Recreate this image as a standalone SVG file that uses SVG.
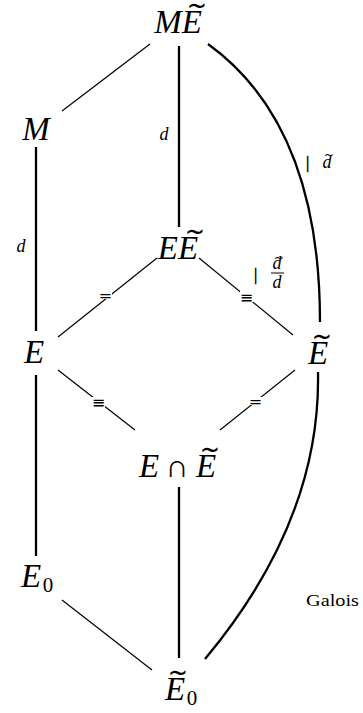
<svg xmlns="http://www.w3.org/2000/svg" width="363" height="713" viewBox="0 0 363 713">
<style>
  text { font-family: 'Liberation Serif', Tinos, 'Times New Roman', Times, 'DejaVu Serif', 'Noto Serif', serif; fill: #000; }
  .m { font-style: italic; font-size: 33px; }
  .r { font-size: 32px; }
  .sub { font-size: 21px; }
  .tl { font-family: 'DejaVu Sans', 'Liberation Sans', sans-serif; font-size: 22px; }
  .tls { font-family: 'DejaVu Sans', 'Liberation Sans', sans-serif; font-size: 12px; }
  .lab { font-style: italic; font-size: 18px; }
  .labr { font-size: 16px; }
  .bar { stroke: #000; stroke-width: 0.5; }
  .sym { font-family: 'DejaVu Sans', 'Liberation Sans', sans-serif; font-size: 16px; }
  .thin { stroke: #000; stroke-width: 1.2; fill: none; }
  .thick { stroke: #000; stroke-width: 2.3; fill: none; }
  .bg { fill: #fff; }
</style>
<rect width="363" height="713" fill="#fff"/>

<g id="connectors">
  <line class="thin" x1="150" y1="44" x2="62" y2="111"/>
  <line class="thick" x1="179" y1="46" x2="179" y2="227"/>
  <path class="thick" d="M208,44 Q320,125 320,322"/>
  <line class="thick" x1="36" y1="147" x2="36" y2="331"/>
  <line class="thin" x1="157" y1="258" x2="58" y2="337"/>
  <line class="thin" x1="199" y1="258" x2="293" y2="335"/>
  <line class="thin" x1="58" y1="370" x2="135" y2="430"/>
  <line class="thin" x1="295" y1="370" x2="220" y2="430"/>
  <line class="thick" x1="36" y1="375" x2="36" y2="556"/>
  <line class="thick" x1="179" y1="487" x2="179" y2="658"/>
  <line class="thin" x1="62" y1="600" x2="152" y2="670"/>
  <path class="thick" d="M318,372 Q321,520 205,659"/>

  <!-- marks on lines -->
  <rect class="bg" x="99" y="291" width="13" height="8"/>
  <text class="sym" x="105.5" y="301" text-anchor="middle">=</text>
  <rect class="bg" x="240" y="291" width="13" height="11"/>
  <text class="sym" x="246.5" y="303" text-anchor="middle">≡</text>
  <rect class="bg" x="92" y="397" width="13" height="11"/>
  <text class="sym" x="98.5" y="408" text-anchor="middle">≡</text>
  <rect class="bg" x="249" y="397" width="13" height="8"/>
  <text class="sym" x="255.5" y="407" text-anchor="middle">=</text>

  <!-- labels -->
  <text class="lab" x="164" y="140" text-anchor="middle">d</text>
  <text class="lab" x="21" y="252" text-anchor="middle">d</text>
  <text class="labr bar" x="307.5" y="168" text-anchor="middle" font-size="20">|</text>
  <text class="lab" x="327" y="168" text-anchor="middle">d</text>
  <text class="tls" x="329" y="159" text-anchor="middle">~</text>
  <text class="labr bar" x="255.5" y="280" text-anchor="middle" font-size="22">|</text>
  <text class="lab" x="277" y="269" text-anchor="middle" font-size="14">d</text>
  <text class="tls" x="279" y="262" text-anchor="middle" font-size="10">~</text>
  <line stroke="#000" stroke-width="1" x1="271" y1="273" x2="284" y2="273"/>
  <text class="lab" x="277" y="288" text-anchor="middle" font-size="14">d</text>
  <text class="labr" x="306" y="606" font-size="16" textLength="53" lengthAdjust="spacingAndGlyphs">Galois</text>
</g>

<g id="node-ME">
  <text class="m" x="178" y="33" text-anchor="middle">ME</text>
  <text class="tl" transform="translate(197,15) scale(1.1,1.3)" text-anchor="middle">~</text>
</g>
<g id="node-M">
  <text class="m" x="36" y="140" text-anchor="middle">M</text>
</g>
<g id="node-EE">
  <text class="m" x="178" y="259" text-anchor="middle">EE</text>
  <text class="tl" transform="translate(195,241) scale(1.1,1.3)" text-anchor="middle">~</text>
</g>
<g id="node-E">
  <text class="m" x="34" y="363" text-anchor="middle">E</text>
</g>
<g id="node-Et">
  <text class="m" x="318" y="364" text-anchor="middle">E</text>
  <text class="tl" transform="translate(322,346) scale(1.1,1.3)" text-anchor="middle">~</text>
</g>
<g id="node-EcapEt">
  <text class="m" x="149" y="477" text-anchor="middle">E</text>
  <text class="r" x="177" y="477" text-anchor="middle">∩</text>
  <text class="m" x="206" y="477" text-anchor="middle">E</text>
  <text class="tl" transform="translate(210,459) scale(1.1,1.3)" text-anchor="middle">~</text>
</g>
<g id="node-E0">
  <text class="m" x="31" y="587" text-anchor="middle">E</text>
  <text class="sub" x="48" y="592" text-anchor="middle">0</text>
</g>
<g id="node-Et0">
  <text class="m" x="175" y="700" text-anchor="middle">E</text>
  <text class="tl" transform="translate(178,682) scale(1.1,1.3)" text-anchor="middle">~</text>
  <text class="sub" x="192" y="705" text-anchor="middle">0</text>
</g>
</svg>
